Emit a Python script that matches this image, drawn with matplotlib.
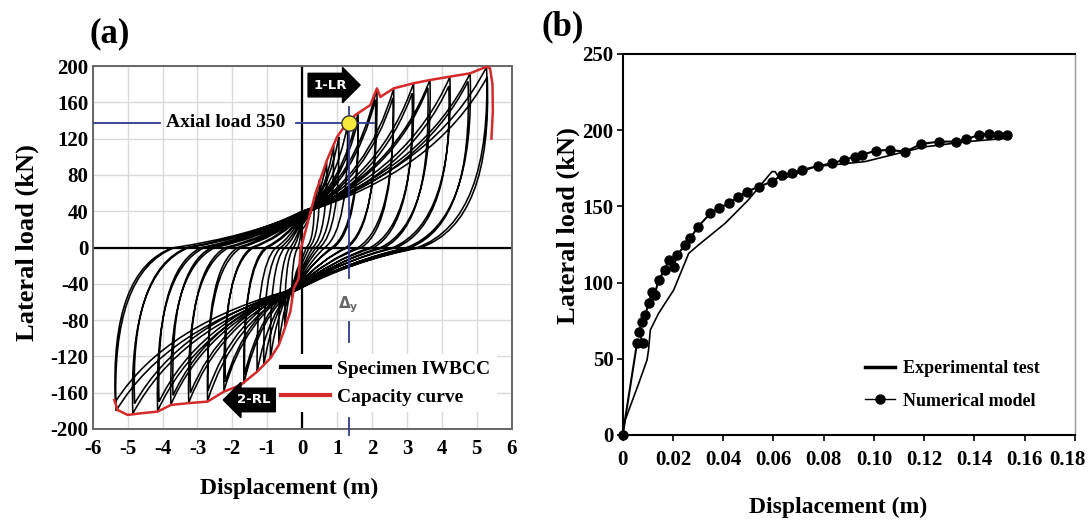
import matplotlib.pyplot as plt
from matplotlib.path import Path
from matplotlib.lines import Line2D
from matplotlib.transforms import ScaledTranslation
import matplotlib.patches as patches

plt.rcParams['font.family'] = ['Liberation Serif', 'DejaVu Serif']
plt.rcParams['font.weight'] = 'bold'
plt.rcParams['axes.labelweight'] = 'bold'
plt.rcParams['axes.unicode_minus'] = False
plt.rcParams['mathtext.fontset'] = 'dejavusans'

# ---- (a) cyclic test: peaks and zero-load crossings of each cycle ----
pos_peak_x = [0.35, 0.5, 0.7, 0.9, 1.05, 1.3, 1.6, 1.6, 2.14, 2.1, 2.62, 2.6,
              3.19, 3.15, 3.66, 3.6, 4.23, 4.2, 4.81, 4.75, 5.28, 5.3]
pos_peak_y = [55, 75, 95, 112, 122, 135, 148, 140, 175, 163, 175, 165,
              181, 170, 185, 176, 188, 178, 192, 183, 199, 188]
pos_res_x = [0.12, 0.2, 0.3, 0.4, 0.5, 0.65, 0.85, 0.9, 1.25, 1.3, 1.6, 1.7,
             1.95, 2.05, 2.25, 2.35, 2.6, 2.7, 3.0, 3.1, 3.3, 3.4]
pos_pinch_y = [20, 25, 28, 30, 32, 33, 35, 34, 36, 35, 37, 36,
               38, 36, 38, 37, 39, 37, 40, 38, 40, 38]
neg_peak_x = [-0.3, -0.5, -0.67, -0.91, -1.1, -1.29, -1.67, -1.65, -2.24, -2.2, -2.71, -2.7,
              -3.25, -3.2, -3.76, -3.7, -4.14, -4.1, -4.85, -4.8, -5.33, -5.35]
neg_peak_y = [-60, -88, -107, -122, -130, -137, -150, -140, -158, -148, -169, -158,
              -171, -160, -173, -163, -180, -170, -183, -172, -180, -170]
neg_res_x = [-0.12, -0.25, -0.35, -0.5, -0.62, -0.75, -1.0, -1.05, -1.4, -1.45, -1.75, -1.85,
             -2.1, -2.2, -2.5, -2.6, -2.8, -2.9, -3.25, -3.3, -3.65, -3.7]
neg_pinch_y = [-25, -30, -34, -36, -38, -40, -42, -40, -43, -41, -44, -42,
               -45, -43, -46, -44, -46, -44, -47, -45, -47, -45]

# capacity curve (envelope)
cap_x = [-5.38, -5.29, -5.0, -4.62, -4.14, -3.76, -3.29, -2.71, -2.24, -1.76, -1.29, -0.91,
         -0.67, -0.53, -0.34, -0.24, -0.1, -0.05, 0.38, 0.71, 1.0, 1.24, 1.52, 1.95,
         2.14, 2.24, 2.62, 3.19, 3.66, 4.23, 4.81, 5.28, 5.38, 5.45, 5.46, 5.42]
cap_y = [-168, -179, -184.5, -182.7, -180.8, -173.5, -171.6, -169.8, -158.8, -151.5, -136.8, -122,
         -107.4, -92.7, -70.7, -45, -34, -3, 59.7, 96.4, 122, 135, 146, 157,
         175.4, 166, 175.4, 181, 184.6, 188.3, 192, 199.3, 197.5, 180, 150, 120]

yield_x, yield_y = 1.33, 137.5

# ---- (b) monotonic comparison ----
exp_x = [0, 0.001, 0.0064, 0.0097, 0.0103, 0.011, 0.0143, 0.0203, 0.0263, 0.0302, 0.0408,
         0.05, 0.0594, 0.0607, 0.0627, 0.0766, 0.0965, 0.12, 0.137, 0.1535]
exp_y = [0, 9.8, 33.9, 49.2, 55.8, 68.9, 79.8, 95.1, 119.2, 124.7, 138.9,
         154.2, 172.8, 172.8, 167.4, 176.1, 179.4, 189, 192.5, 194.7]
num_x = [0, 0.0057, 0.008, 0.0066, 0.0077, 0.009, 0.0103, 0.0117, 0.0127, 0.0143, 0.0167,
         0.0183, 0.0203, 0.0216, 0.0249, 0.0269, 0.03, 0.0349, 0.0382, 0.0422, 0.0461,
         0.0494, 0.0541, 0.0594, 0.0634, 0.0673, 0.0713, 0.0779, 0.0833, 0.0879, 0.0925,
         0.0952, 0.1007, 0.1062, 0.1125, 0.1188, 0.1257, 0.1327, 0.1368, 0.1417, 0.1458,
         0.1493, 0.1528]
num_y = [0, 60.2, 60.2, 67.8, 74.4, 78.7, 86.4, 94, 91.9, 101.7, 108.3,
         114.8, 110.4, 118, 124.7, 129, 136.7, 145.4, 148.7, 152, 156.4,
         159.6, 162.9, 166.2, 170.6, 171.7, 173.9, 176.5, 178.3, 180.4, 182.6,
         183.7, 186.6, 187, 185.9, 190.9, 192.5, 192.5, 194, 196.9, 197.5,
         196.9, 196.9]


def hysteresis_path():
    verts = [(0, 0)]
    codes = [Path.MOVETO]
    prev = (0, 0)
    for i in range(len(pos_peak_x)):
        px, py = pos_peak_x[i], pos_peak_y[i]
        nx, ny = neg_peak_x[i], neg_peak_y[i]
        pp = (0.0, pos_pinch_y[i])
        npn = (-0.15, neg_pinch_y[i])
        rp = (pos_res_x[i], 0)
        rn = (neg_res_x[i], 0)
        segs = [
            ((prev[0] * 0.45, pp[1] * 0.3), pp),
            ((pp[0] + 0.72 * (px - pp[0]), pp[1] + 0.3 * (py - pp[1])), (px, py)),
            ((px * 1.03, 0.15 * py), rp),
            ((rp[0] * 0.45, npn[1] * 0.3), npn),
            ((npn[0] + 0.72 * (nx - npn[0]), npn[1] + 0.3 * (ny - npn[1])), (nx, ny)),
            ((nx * 1.03, 0.15 * ny), rn),
        ]
        for ctrl, end in segs:
            verts += [ctrl, end]
            codes += [Path.CURVE3, Path.CURVE3]
        prev = rn
    return Path(verts, codes)


fig = plt.figure(figsize=(10.88, 5.2), dpi=100)
ax1 = fig.add_axes([0.0852, 0.175, 0.3851, 0.698])
ax2 = fig.add_axes([0.5723, 0.1635, 0.4157, 0.7327])

# ================= (a) =================
ax1.set_xlim(-6, 6)
ax1.set_ylim(-200, 200)
ax1.set_xticks(range(-6, 7))
ax1.set_yticks(range(-200, 201, 40))
ax1.grid(True, color='#d9d9d9', lw=1.0)
ax1.set_axisbelow(True)
for s in ax1.spines.values():
    s.set_color('#666666')
    s.set_linewidth(1.4)
ax1.tick_params(axis='both', length=0, labelsize=15)
ax1.tick_params(axis='x', pad=7)
ax1.tick_params(axis='y', pad=3)
ax1.axhline(0, color='black', lw=1.6, zorder=1.5)
ax1.axvline(0, color='black', lw=1.6, zorder=1.5)

ax1.add_patch(patches.PathPatch(hysteresis_path(), fc='none', ec='black', lw=1.15, zorder=2))
ax1.plot(cap_x, cap_y, color='#d42a2a', lw=1.8, zorder=3)

blue = '#2e3a8c'
ax1.plot([-6, -4.06], [yield_y, yield_y], color=blue, lw=1.3, zorder=4)
ax1.plot([-0.19, 2.05], [yield_y, yield_y], color=blue, lw=1.3, zorder=4)
ax1.plot([yield_x, yield_x], [155, -34], color=blue, lw=1.3, zorder=4)
ax1.plot([yield_x, yield_x], [-82, -104], color=blue, lw=1.3, zorder=4)
ax1.plot([yield_x, yield_x], [-188, -207], color=blue, lw=1.3, zorder=4, clip_on=False)
ax1.plot([yield_x], [yield_y], 'o', ms=11, mfc='#f7e93b', mec='#333333', mew=1.0, zorder=5)
ax1.text(-2.19, yield_y, 'Axial load 350', fontsize=14, ha='center', va='center', zorder=5)
ax1.text(yield_x, -63, r'$\Delta_\mathrm{y}$', fontsize=11, color='#666666',
         ha='center', va='center', fontweight='normal', zorder=5)

h_spec = Line2D([], [], color='black', lw=3)
h_cap = Line2D([], [], color='#d42a2a', lw=3)
leg1 = ax1.legend([h_spec, h_cap], ['Specimen IWBCC', 'Capacity curve'],
                  loc='center left', bbox_to_anchor=(-0.8, -149.4),
                  bbox_transform=ax1.transData, fontsize=14, frameon=True,
                  facecolor='white', edgecolor='none', framealpha=1, fancybox=False,
                  borderpad=0.35, borderaxespad=0, handlelength=2.5,
                  handletextpad=0.4, labelspacing=0.5)
leg1.set_zorder(7)

arrow_font = ['Liberation Sans Narrow', 'DejaVu Sans']
ax1.text(0.8, 179, '1-LR', color='white', fontsize=9.5, family=arrow_font,
         ha='center', va='center', zorder=8,
         bbox=dict(boxstyle='rarrow,pad=0.4', fc='black', ec='black'))
ax1.text(-1.4, -168, '2-RL', color='white', fontsize=9.5, family=arrow_font,
         ha='center', va='center', zorder=8,
         bbox=dict(boxstyle='larrow,pad=0.4', fc='black', ec='black'))

ax1.set_xlabel('Displacement (m)', fontsize=17)
ax1.xaxis.set_label_coords(0.468, -0.163)
ax1.xaxis.label.set_va('center')
ax1.set_ylabel('Lateral load (kN)', fontsize=19)
ax1.yaxis.set_label_coords(-0.157, 0.515)
ax1.yaxis.label.set_va('center')

# ================= (b) =================
ax2.set_xlim(0, 0.18)
ax2.set_ylim(0, 250)
xt = [0, 0.02, 0.04, 0.06, 0.08, 0.10, 0.12, 0.14, 0.16, 0.18]
ax2.set_xticks(xt)
ax2.set_xticklabels(['0'] + ['%.2f' % v for v in xt[1:]])
ax2.set_yticks(range(0, 251, 50))
ax2.tick_params(axis='both', direction='out', length=4, width=1.2, labelsize=15)
ax2.tick_params(axis='x', pad=6.5)
ax2.tick_params(axis='y', pad=2.5)
# last label sits a little left of its tick so it stays inside the figure
last = ax2.xaxis.get_major_ticks()[-1].label1
last.set_transform(last.get_transform() + ScaledTranslation(-0.08, 0, fig.dpi_scale_trans))
for k in ['left', 'bottom', 'top']:
    ax2.spines[k].set_color('black')
    ax2.spines[k].set_linewidth(1.5)
ax2.spines['right'].set_color('#999999')
ax2.spines['right'].set_linewidth(1.0)

ax2.plot(exp_x, exp_y, color='black', lw=1.2, label='Experimental test')
ax2.plot(num_x, num_y, '-o', color='black', lw=1.5, ms=6.5, clip_on=False,
         label='Numerical model')
leg2 = ax2.legend(loc='center left', bbox_to_anchor=(0.535, 0.132), fontsize=13,
                  frameon=False, borderpad=0, borderaxespad=0, handlelength=1.7,
                  handletextpad=0.4, labelspacing=0.87)
leg2.legend_handles[0].set_linewidth(2.5)
leg2.legend_handles[1].set_linewidth(1.0)

ax2.set_xlabel('Displacement (m)', fontsize=17)
ax2.xaxis.set_label_coords(0.476, -0.189)
ax2.xaxis.label.set_va('center')
ax2.set_ylabel('Lateral load (kN)', fontsize=19)
ax2.yaxis.set_label_coords(-0.121, 0.55)
ax2.yaxis.label.set_va('center')

fig.text(110 / 1088, 1 - 34 / 520, '(a)', fontsize=25, ha='center', va='center')
fig.text(563 / 1088, 1 - 27 / 520, '(b)', fontsize=25, ha='center', va='center')

fig.savefig('out.png', dpi=100)
